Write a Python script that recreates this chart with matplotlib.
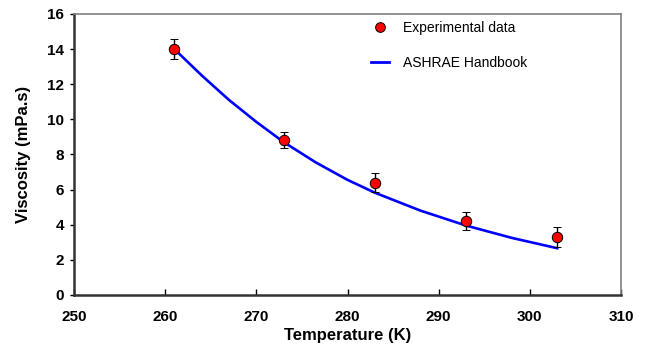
import matplotlib
matplotlib.use('Agg')
import matplotlib.pyplot as plt
from matplotlib.lines import Line2D

plt.rcParams['font.family'] = ['Liberation Sans', 'DejaVu Sans']

# experimental points
temp_exp = [261, 273, 283, 293, 303]
visc_exp = [14.0, 8.8, 6.4, 4.2, 3.3]
visc_err = [0.55, 0.45, 0.55, 0.5, 0.55]

# ASHRAE handbook curve
temp_ashrae = [261, 264, 267, 270, 273, 276.5, 280, 283, 288, 293, 298, 303]
visc_ashrae = [14.0, 12.5, 11.1, 9.85, 8.7, 7.55, 6.55, 5.82, 4.8, 3.95, 3.25, 2.66]

x_ticks = [250, 260, 270, 280, 290, 300, 310]
y_ticks = [0, 2, 4, 6, 8, 10, 12, 14, 16]

fig = plt.figure(figsize=(6.49, 3.47), dpi=100)
ax = fig.add_axes([0.114, 0.150, 0.843, 0.810])

ax.plot(temp_ashrae, visc_ashrae, color='#0000ff', lw=1.9, zorder=2,
        solid_joinstyle='round')
ax.errorbar(temp_exp, visc_exp, yerr=visc_err, fmt='o', color='black',
            mfc='red', mec='black', mew=0.7, ms=7.5, elinewidth=1.0,
            capsize=3, capthick=1.0, zorder=3)

ax.set_xlim(250, 310)
ax.set_ylim(0, 16)
ax.set_xticks(x_ticks)
ax.set_yticks(y_ticks)
ax.tick_params(axis='x', direction='in', length=4, width=1, pad=11, labelsize=11)
ax.tick_params(axis='y', direction='out', length=3, width=1, pad=4, labelsize=11)
for lab in ax.get_xticklabels() + ax.get_yticklabels():
    lab.set_fontweight('bold')

for side in ['left', 'bottom']:
    ax.spines[side].set_color('#333333')
    ax.spines[side].set_linewidth(1.8)
for side in ['top', 'right']:
    ax.spines[side].set_color('#808080')
    ax.spines[side].set_linewidth(1.2)

ax.set_xlabel('Temperature (K)', fontsize=12, fontweight='bold', labelpad=3)
ax.set_ylabel('Viscosity (mPa.s)', fontsize=12, fontweight='bold', labelpad=12)

handles = [
    Line2D([], [], ls='none', marker='o', mfc='red', mec='black', mew=0.7, ms=7),
    Line2D([], [], color='#0000ff', lw=2),
]
ax.legend(handles, ['Experimental data', 'ASHRAE Handbook'], frameon=False,
          loc='upper left', bbox_to_anchor=(0.52, 1.02), labelspacing=1.5,
          handlelength=1.3, handletextpad=1.0, fontsize=10)

fig.savefig('out.png', dpi=100)
